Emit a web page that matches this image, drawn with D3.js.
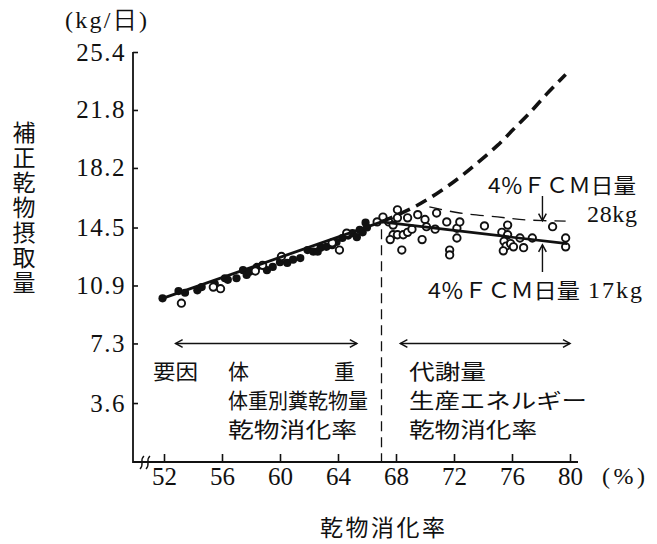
<!DOCTYPE html>
<html>
<head>
<meta charset="utf-8">
<script src="https://cdn.jsdelivr.net/npm/d3@7"></script>
<style>
  body { margin: 0; background: #fff; }
  svg { display: block; }
  .num { font-family: "Liberation Serif", "DejaVu Serif", serif; }
  .jp { font-family: "Noto Sans CJK JP", sans-serif; }
</style>
</head>
<body>
<svg width="657" height="544"></svg>
<script>
// ---- data ----
var yTicks = [3.6, 7.3, 10.9, 14.5, 18.2, 21.8, 25.4];
var xTicks = [52, 56, 60, 64, 68, 72, 76, 80];

// filled dots (digestibility %, corrected DM intake kg/day)
var solidDots = [[51.9,10.1],[53.0,10.55],[53.45,10.45],[54.3,10.6],[54.6,10.8],[55.5,11.0],
  [56.2,11.35],[56.4,11.25],[57.0,11.35],[57.45,11.85],[57.7,11.55],[57.9,11.75],[58.4,12.05],
  [59.1,11.85],[59.5,12.05],[60.0,12.35],[60.5,12.3],[60.9,12.5],[61.4,12.6],[61.9,13.1],
  [62.3,13.0],[62.6,13.0],[62.8,13.25],[63.2,13.3],[63.6,13.4],[63.9,13.6],[64.3,13.85],
  [64.7,14.0],[65.0,14.15],[65.3,13.9],[65.5,14.35],[65.7,14.2],[65.9,14.8],[66.0,14.5]];

// open circles
var openDots = [[53.2,9.8],[55.4,10.8],[55.9,10.7],[58.3,11.8],[58.8,12.15],[60.1,12.7],
  [63.6,13.55],[64.1,13.1],[64.6,14.15],[66.7,14.85],[67.1,15.15],[67.5,14.85],[68.1,15.6],
  [67.8,14.05],[67.6,13.75],[68.1,15.1],[68.8,15.1],[67.8,14.65],[68.1,14.05],[68.5,14.05],
  [68.8,14.2],[69.1,14.4],[68.4,13.1],[69.5,15.3],[70.0,15.0],[70.1,14.55],[70.7,14.4],
  [69.8,13.75],[70.8,15.4],[71.5,14.85],[72.2,14.45],[72.4,14.85],[72.2,13.85],[71.7,13.1],
  [71.7,12.8],[74.1,14.6],[75.3,14.2],[75.7,14.65],[75.7,14.05],[75.45,13.65],[75.6,13.35],
  [75.4,13.05],[75.9,13.5],[76.1,13.3],[76.55,13.85],[76.8,13.25],[77.4,13.85],[78.8,14.55],
  [79.7,13.85],[79.7,13.3]];

// fitted lines
var trendLeft = [[51.9,10.1],[67.0,14.85]];
var trendRight = [[67.0,14.85],[79.8,13.5]];
var curveHigh = [[67.0,14.85],[69.1,15.7],[70.8,16.6],[72.3,17.55],[73.6,18.5],[75.0,19.6],
  [76.1,20.6],[77.2,21.6],[78.4,22.8],[79.7,24.0]];
var curve28 = [[70.3,15.78],[72.4,15.4],[75.0,15.16],[77.0,14.97],[79.7,14.9]];

var splitX = 67.0;
var rangeArrows = [[52.8,65.3],[68.3,80.0]];
var arrowLevel = 7.3;
var fcmArrowX = 78.1;

// ---- layout ----
var svg = d3.select('svg');
var x = d3.scaleLinear().domain([52, 80]).range([164, 570]);
var y = d3.scaleLinear().domain([0, 25.4]).range([461, 52]);
var axisY0 = 462, axisX0 = 133;

// y axis
var yAxis = d3.axisLeft(y).tickValues(yTicks).tickSizeInner(-5).tickSizeOuter(0)
  .tickPadding(7).tickFormat(d3.format('.1f'));
var yG = svg.append('g').attr('transform', 'translate(' + axisX0 + ',0)').call(yAxis);
yG.select('.domain').remove();
yG.selectAll('line').attr('stroke', '#111').attr('stroke-width', 1.6);
yG.selectAll('text').attr('class', 'num').attr('font-size', 25).attr('fill', '#111')
  .attr('letter-spacing', 1.5);
svg.append('line').attr('x1', axisX0).attr('x2', axisX0).attr('y1', y(25.4)).attr('y2', axisY0 + 1)
  .attr('stroke', '#111').attr('stroke-width', 1.8);

// x axis
var xAxis = d3.axisBottom(x).tickValues(xTicks).tickSizeInner(-8).tickSizeOuter(0).tickPadding(5);
var xG = svg.append('g').attr('transform', 'translate(0,' + axisY0 + ')').call(xAxis);
xG.select('.domain').remove();
xG.selectAll('line').attr('stroke', '#111').attr('stroke-width', 1.6);
xG.selectAll('text').attr('class', 'num').attr('font-size', 25).attr('fill', '#111');
svg.append('line').attr('x1', axisX0).attr('x2', 578).attr('y1', axisY0).attr('y2', axisY0)
  .attr('stroke', '#111').attr('stroke-width', 1.8);

// axis break marks
[142, 148].forEach(function(bx) {
  svg.append('path')
    .attr('d', 'M' + (bx + 2) + ',' + (axisY0 - 6) + ' C' + (bx - 3) + ',' + (axisY0 - 2) + ' ' +
      (bx + 3) + ',' + (axisY0 + 2) + ' ' + (bx - 2) + ',' + (axisY0 + 7))
    .attr('fill', 'none').attr('stroke', '#111').attr('stroke-width', 1.4);
});

// axis titles
svg.append('text').attr('class', 'num').attr('x', 65).attr('y', 28).attr('font-size', 24)
  .attr('fill', '#111').attr('textLength', 82).text('(kg/日)');
svg.append('text').attr('class', 'jp').attr('x', 24).attr('y', 121)
  .style('writing-mode', 'vertical-rl').attr('font-size', 23).attr('letter-spacing', 2)
  .attr('fill', '#111').text('補正乾物摂取量');
svg.append('text').attr('class', 'num').attr('x', 602).attr('y', 484).attr('font-size', 24)
  .attr('fill', '#111').attr('textLength', 43).text('(%)');
svg.append('text').attr('class', 'jp').attr('x', 320).attr('y', 536).attr('font-size', 23)
  .attr('fill', '#111').attr('textLength', 125).text('乾物消化率');

// ---- marks ----
var line = d3.line().x(function(d) { return x(d[0]); }).y(function(d) { return y(d[1]); });
var smooth = d3.line().curve(d3.curveCatmullRom).x(function(d) { return x(d[0]); })
  .y(function(d) { return y(d[1]); });

// split line
svg.append('line').attr('x1', x(splitX)).attr('x2', x(splitX)).attr('y1', y(14.4)).attr('y2', axisY0)
  .attr('stroke', '#111').attr('stroke-width', 1.3).attr('stroke-dasharray', '10,6');

svg.append('g').selectAll('circle.s').data(solidDots).enter().append('circle')
  .attr('cx', function(d) { return x(d[0]); }).attr('cy', function(d) { return y(d[1]); })
  .attr('r', 4.1).attr('fill', '#111');
svg.append('g').selectAll('circle.o').data(openDots).enter().append('circle')
  .attr('cx', function(d) { return x(d[0]); }).attr('cy', function(d) { return y(d[1]); })
  .attr('r', 3.7).attr('fill', '#fff').attr('stroke', '#111').attr('stroke-width', 1.9);

svg.append('path').attr('d', line(trendLeft)).attr('fill', 'none').attr('stroke', '#111')
  .attr('stroke-width', 2.8);
svg.append('path').attr('d', line(trendRight)).attr('fill', 'none').attr('stroke', '#111')
  .attr('stroke-width', 2.6);
svg.append('path').attr('d', smooth(curveHigh)).attr('fill', 'none').attr('stroke', '#111')
  .attr('stroke-width', 3.6).attr('stroke-dasharray', '12,7');
svg.append('path').attr('d', smooth(curve28)).attr('fill', 'none').attr('stroke', '#111')
  .attr('stroke-width', 1.4).attr('stroke-dasharray', '13,8');

// arrowheads
function head(px, py, dir) {
  // dir: angle in degrees the arrow points to
  var a = dir * Math.PI / 180, l = 8, w = 0.5;
  var p1 = [px - l * Math.cos(a - w), py - l * Math.sin(a - w)];
  var p2 = [px - l * Math.cos(a + w), py - l * Math.sin(a + w)];
  svg.append('path').attr('d', 'M' + p1 + 'L' + px + ',' + py + 'L' + p2)
    .attr('fill', 'none').attr('stroke', '#111').attr('stroke-width', 1.5);
}
rangeArrows.forEach(function(r) {
  var yy = y(arrowLevel);
  svg.append('line').attr('x1', x(r[0])).attr('x2', x(r[1])).attr('y1', yy).attr('y2', yy)
    .attr('stroke', '#111').attr('stroke-width', 1.5);
  head(x(r[0]), yy, 180);
  head(x(r[1]), yy, 0);
});
var ax = x(fcmArrowX);
svg.append('line').attr('x1', ax).attr('x2', ax).attr('y1', 196).attr('y2', y(14.93))
  .attr('stroke', '#111').attr('stroke-width', 1.4);
head(ax, y(14.93), 90);
svg.append('line').attr('x1', ax).attr('x2', ax).attr('y1', 272).attr('y2', y(13.55) + 2)
  .attr('stroke', '#111').attr('stroke-width', 1.4);
head(ax, y(13.55) + 2, -90);

// annotations
function jp(t, px, py, w, size) {
  svg.append('text').attr('class', 'jp').attr('x', px).attr('y', py)
    .attr('font-size', size || 21).attr('fill', '#111')
    .attr('textLength', w).attr('lengthAdjust', 'spacingAndGlyphs').text(t);
}
jp('4％ＦＣＭ日量', 488, 193, 148, 21);
svg.append('text').attr('class', 'num').attr('x', 587).attr('y', 222).attr('font-size', 24)
  .attr('fill', '#111').attr('textLength', 50).text('28kg');
jp('4％ＦＣＭ日量', 428, 298, 152, 21);
svg.append('text').attr('class', 'num').attr('x', 588).attr('y', 298).attr('font-size', 24)
  .attr('fill', '#111').attr('textLength', 54).text('17kg');

jp('要因', 153, 379, 45);
jp('体', 228, 379, 21);
jp('重', 334, 379, 21);
jp('体重別糞乾物量', 228, 408, 140);
jp('乾物消化率', 228, 437, 129);
jp('代謝量', 409, 379, 77);
jp('生産エネルギー', 409, 408, 178);
jp('乾物消化率', 409, 437, 128);
</script>
</body>
</html>
